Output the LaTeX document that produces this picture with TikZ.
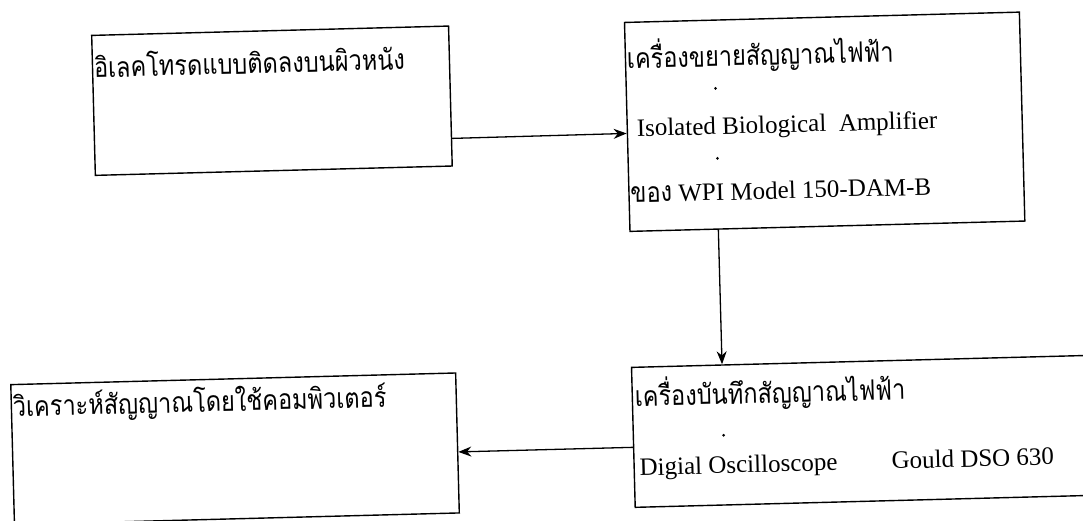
\documentclass[tikz,border=0pt]{standalone}
\usepackage{fontspec}
\usepackage{graphicx}
\setmainfont{Liberation Serif}
\newfontfamily\thaifont[Script=Thai]{Loma}
\usetikzlibrary{arrows.meta,calc}
% condensed Thai lettering
\newcommand{\thtext}[1]{\scalebox{0.84}[1]{\thaifont\fontsize{28}{32}\selectfont #1}}

\begin{document}
\begin{tikzpicture}[x=1pt,y=-1pt,
  box/.style={draw, line width=1.4pt, rectangle, inner sep=0pt, anchor=north west},
  lbl/.style={anchor=base west, inner sep=0pt, font=\fontsize{25}{29}\selectfont},
  th/.style={anchor=base west, inner sep=0pt},
  link/.style={line width=1.3pt, -{Stealth[length=13pt,width=10pt]}},
]
\useasboundingbox (0,0) rectangle (1083,520);
\clip (0,0) rectangle (1083,520);
\begin{scope}[rotate around={1.5:(541.5,260)}, transform shape]
  % blocks
  \node[box, minimum width=357pt, minimum height=140pt] (b1) at (97,23) {};
  \node[box, minimum width=395pt, minimum height=209pt] (b2) at (630,24) {};
  \node[box, minimum width=482pt, minimum height=140pt] (b3) at (628,369) {};
  \node[box, minimum width=445pt, minimum height=140pt] (b4) at (7,370) {};

  % texts
  \node[th] (t1) at (99,66) {\thtext{อิเลคโทรดแบบติดลงบนผิวหนัง}};

  \node[th] (t2a) at (632,71) {\thtext{เครื่องขยายสัญญาณไฟฟ้า}};
  \node[lbl] (t2b) at (640,139) {Isolated Biological\ \ Amplifier};
  \node[lbl] (t2c) at (632,205) {\thtext{ของ} WPI Model 150-DAM-B};

  \node[th] (t3a) at (631,409) {\thtext{เครื่องบันทึกสัญญาณไฟฟ้า}};
  \node[lbl] (t3b) at (634,478) {Digial Oscilloscope};
  \node[lbl] (t3c) at (886,478) {Gould DSO 630};

  \node[th] (t4) at (9,403) {\thtext{วิเคราะห์สัญญาณโดยใช้คอมพิวเตอร์}};

  % small dots between the lines
  \fill (720,93) circle (1.5pt);
  \fill (720,163) circle (1.5pt);
  \fill (719,440) circle (1.5pt);

  % connectors
  \coordinate (p1) at ($(b1.south east)!0.2!(b1.north east)$);
  \coordinate (q1) at ($(b2.north west)!0.531!(b2.south west)$);
  \draw[link] (p1) -- (q1);

  \coordinate (p2) at ($(b2.south west)!0.225!(b2.south east)$);
  \coordinate (q2) at ($(b3.north west)!0.189!(b3.north east)$);
  \draw[link] (p2) -- (q2);

  \coordinate (p3) at ($(b3.north west)!0.571!(b3.south west)$);
  \coordinate (q3) at ($(b4.north east)!0.564!(b4.south east)$);
  \draw[link] (p3) -- (q3);
\end{scope}
\end{tikzpicture}
\end{document}
